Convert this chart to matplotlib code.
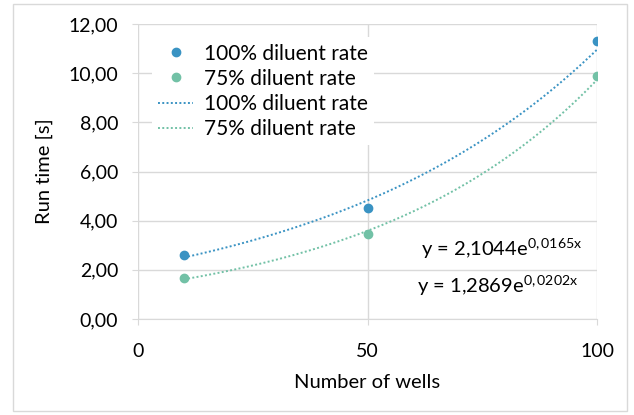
import numpy as np
import matplotlib.pyplot as plt
from matplotlib.patches import Rectangle

plt.rcParams['font.family'] = ['Lato', 'DejaVu Sans']
plt.rcParams['mathtext.fontset'] = 'custom'
plt.rcParams['mathtext.rm'] = 'Lato'
plt.rcParams['mathtext.it'] = 'Lato'

wells = [10, 50, 100]
run_100 = [2.6, 4.5, 11.3]
run_75 = [1.65, 3.45, 9.9]
label_100 = "100% diluent rate"
label_75 = "75% diluent rate"
eq_100 = "y = 2,1044e$^{0,0165x}$"
eq_75 = "y = 1,2869e$^{0,0202x}$"
x_ticks = [0, 50, 100]
y_ticks = [0, 2, 4, 6, 8, 10, 12]

c_100 = "#3A93C3"
c_75 = "#72C1A6"
grid_c = "#D9D9D9"
W, H = 634, 415


def exp_fit(x, y):
    # exponential trendline like Excel: ln(y) = a*x + b
    a, b = np.polyfit(np.array(x, dtype=float), np.log(y), 1)
    xs = np.linspace(min(x), max(x), 200)
    return xs, np.exp(b) * np.exp(a * xs)


fig = plt.figure(figsize=(W/100, H/100), dpi=100)
ax = fig.add_axes([138/W, 1-319/H, (597-138)/W, (319-24)/H])

fig.patches.append(Rectangle((13/W, 4/H), (627-13)/W, (411-4)/H,
                             transform=fig.transFigure, fill=False,
                             edgecolor="#D9D9D9", linewidth=1))

xs1, ys1 = exp_fit(wells, run_100)
xs2, ys2 = exp_fit(wells, run_75)

ax.plot(wells, run_100, 'o', color=c_100, markersize=6, label=label_100, zorder=3)
ax.plot(wells, run_75, 'o', color=c_75, markersize=6, label=label_75, zorder=3)
ax.plot(xs1, ys1, color=c_100, linestyle=(0, (1, 1.2)), linewidth=1.4, label=label_100, zorder=2)
ax.plot(xs2, ys2, color=c_75, linestyle=(0, (1, 1.2)), linewidth=1.4, label=label_75, zorder=2)

ax.set_xlim(0, 100)
ax.set_ylim(0, 12)
ax.set_xticks(x_ticks)
ax.set_yticks(y_ticks)
ax.set_yticklabels([f"{v:.2f}".replace('.', ',') for v in y_ticks])
ax.grid(True, color=grid_c, linewidth=1)
ax.set_axisbelow(True)
for s in ['top', 'right', 'left']:
    ax.spines[s].set_visible(False)
ax.spines['bottom'].set_color(grid_c)
ax.tick_params(axis='x', length=4, color=grid_c, pad=13, labelsize=14)
ax.tick_params(axis='y', length=4.3, color=grid_c, pad=10, labelsize=14)

ax.set_xlabel("Number of wells", fontsize=14.5)
ax.set_ylabel("Run time [s]", fontsize=14.5)
ax.xaxis.set_label_coords(0.5, -0.185)
ax.yaxis.set_label_coords(-0.185, 0.5)

leg = ax.legend(loc='upper left', bbox_to_anchor=(0.03, 0.955), frameon=True,
                fontsize=15, handlelength=1.7, handletextpad=0.5,
                labelspacing=0.25, borderpad=0.3, borderaxespad=0)
leg.get_frame().set_edgecolor('none')
leg.get_frame().set_facecolor('white')
leg.get_frame().set_alpha(1)

fig.text(582/W, 1-256/H, eq_100, fontsize=14.5, ha='right', va='baseline')
fig.text(578/W, 1-293/H, eq_75, fontsize=14.5, ha='right', va='baseline')

fig.savefig("out.png", dpi=100)
